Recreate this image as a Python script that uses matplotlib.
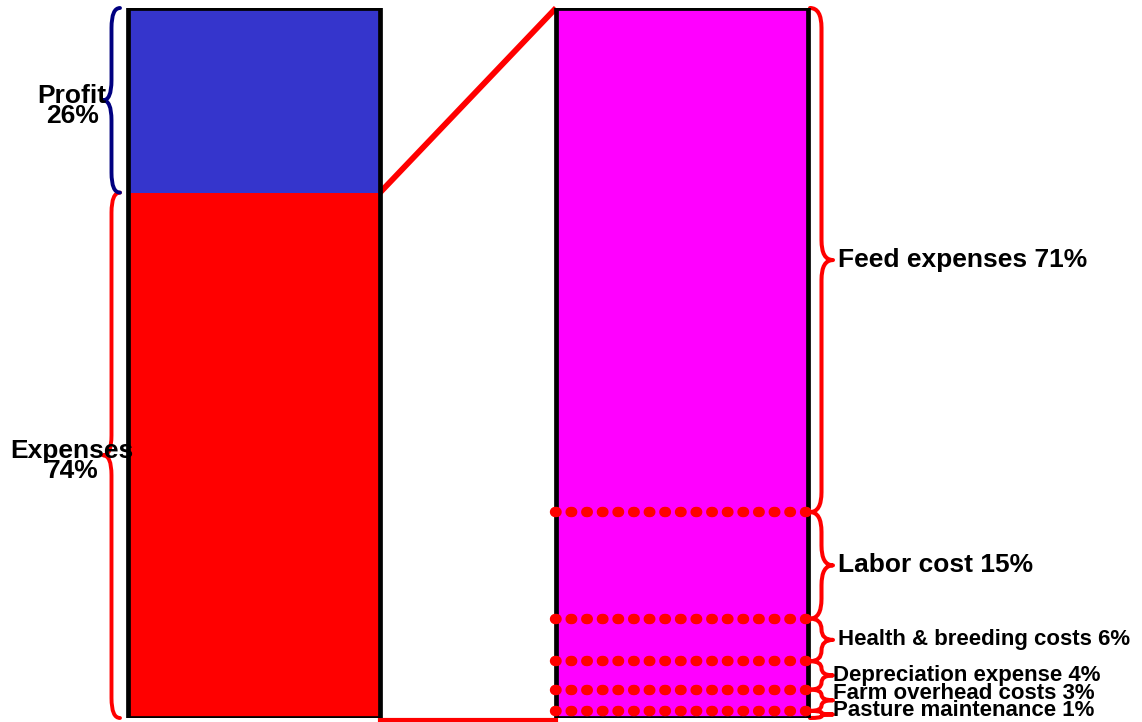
import matplotlib
matplotlib.use("Agg")
import matplotlib.pyplot as plt
from matplotlib.path import Path
from matplotlib.patches import PathPatch
import numpy as np

plt.rcParams['font.family'] = ['Liberation Sans', 'DejaVu Sans']

# left bar: share of revenue
split_names = ["Expenses", "Profit"]
split_pct = [74, 26]
split_colors = ["#FF0000", "#3535CC"]
brace_colors = ["#FF0000", "#000080"]

# right bar: breakdown of expenses (top to bottom)
cost_names = ["Feed expenses", "Labor cost", "Health & breeding costs",
              "Depreciation expense", "Farm overhead costs", "Pasture maintenance"]
cost_pct = [71, 15, 6, 4, 3, 1]

PX = 428.0            # pixels per x unit
W = 252 / PX          # bar width


def brace(ax, x0, y0, y1, w, d, color, lw):
    # curly brace between y0 and y1; ends at x0, tip at x0 + d*w
    xs = x0 + d * w / 2
    xt = x0 + d * w
    ym = (y0 + y1) / 2
    r = min(2.8, (y1 - y0) / 4)
    verts = [(x0, y1), (xs, y1), (xs, y1 - r), (xs, ym + r),
             (xs, ym), (xt, ym), (xs, ym), (xs, ym - r),
             (xs, y0 + r), (xs, y0), (x0, y0)]
    codes = [Path.MOVETO, Path.CURVE3, Path.CURVE3, Path.LINETO,
             Path.CURVE3, Path.CURVE3, Path.CURVE3, Path.CURVE3,
             Path.LINETO, Path.CURVE3, Path.CURVE3]
    ax.add_patch(PathPatch(Path(verts, codes), fill=False, edgecolor=color,
                           lw=lw, capstyle='round', joinstyle='round', clip_on=False))


fig = plt.figure(figsize=(11.42, 7.22), dpi=100)
ax = fig.add_axes([0, 4 / 722, 1, 710 / 722])
ax.set_xlim(-254 / PX, 1 + (1142 - 682) / PX)
ax.set_ylim(0, 100)
ax.axis('off')

# left stacked bar
bottom = 0
for v, c in zip(split_pct, split_colors):
    ax.bar(0, v, W, bottom=bottom, color=c, lw=0)
    bottom += v

# right stacked bar (drawn bottom up)
cum = np.cumsum([0] + cost_pct[::-1])
for i, v in enumerate(cost_pct[::-1]):
    ax.bar(1, v, W, bottom=cum[i], color="#FF00FF", lw=0)

# outlines
ax.bar([0, 1], [sum(split_pct), sum(cost_pct)], W, fill=False,
       edgecolor='black', lw=3.4, zorder=3)

# dotted separators between cost groups
for y in cum[1:-1]:
    ax.plot([1 - W / 2 - 0.002, 1 + W / 2 + 0.004], [y, y], color='#FF0000',
            lw=7.5, ls=(0, (0.15, 1.35)), dash_capstyle='round',
            solid_capstyle='round', zorder=4, clip_on=False)

# connecting lines
ax.plot([W / 2, 1 - W / 2], [split_pct[0], 100], color='#FF0000', lw=4.2,
        solid_capstyle='butt', zorder=2, clip_on=False)
ax.plot([W / 2, 1 - W / 2], [-0.3, -0.3], color='#FF0000', lw=3,
        zorder=2, clip_on=False)

# left braces and labels
bottom = 0
for name, v, c in zip(split_names, split_pct, brace_colors):
    brace(ax, -W / 2 - 8 / PX, bottom, bottom + v, 17 / PX, -1, c, 2.8)
    ax.text(-0.425, bottom + v / 2 - 0.8, f"{name}\n{v}%", ha='center',
            va='center', fontsize=19, fontweight='bold', linespacing=0.8,
            zorder=5)
    bottom += v

# right braces and labels (label heights pushed apart from the bottom up)
tops = (100 - np.cumsum([0] + cost_pct))[:-1]
label_y = []
prev = -10
for v, top in zip(cost_pct[::-1], tops[::-1]):
    yl = max(top - v / 2, prev + 2.4, 1.0)
    label_y.append(yl)
    prev = yl
label_y = label_y[::-1]

for name, v, top, yl in zip(cost_names, cost_pct, tops, label_y):
    brace(ax, 1 + W / 2 + 2 / PX, top - v, top, 23 / PX, 1, '#FF0000', 2.9)
    ax.text(1 + W / 2 + (30 if v >= 5 else 25) / PX, yl,
            f"{name} {v}%", ha='left', va='center',
            fontsize=19 if v >= 10 else 16, fontweight='bold', zorder=5)

fig.savefig("out.png", dpi=100)
